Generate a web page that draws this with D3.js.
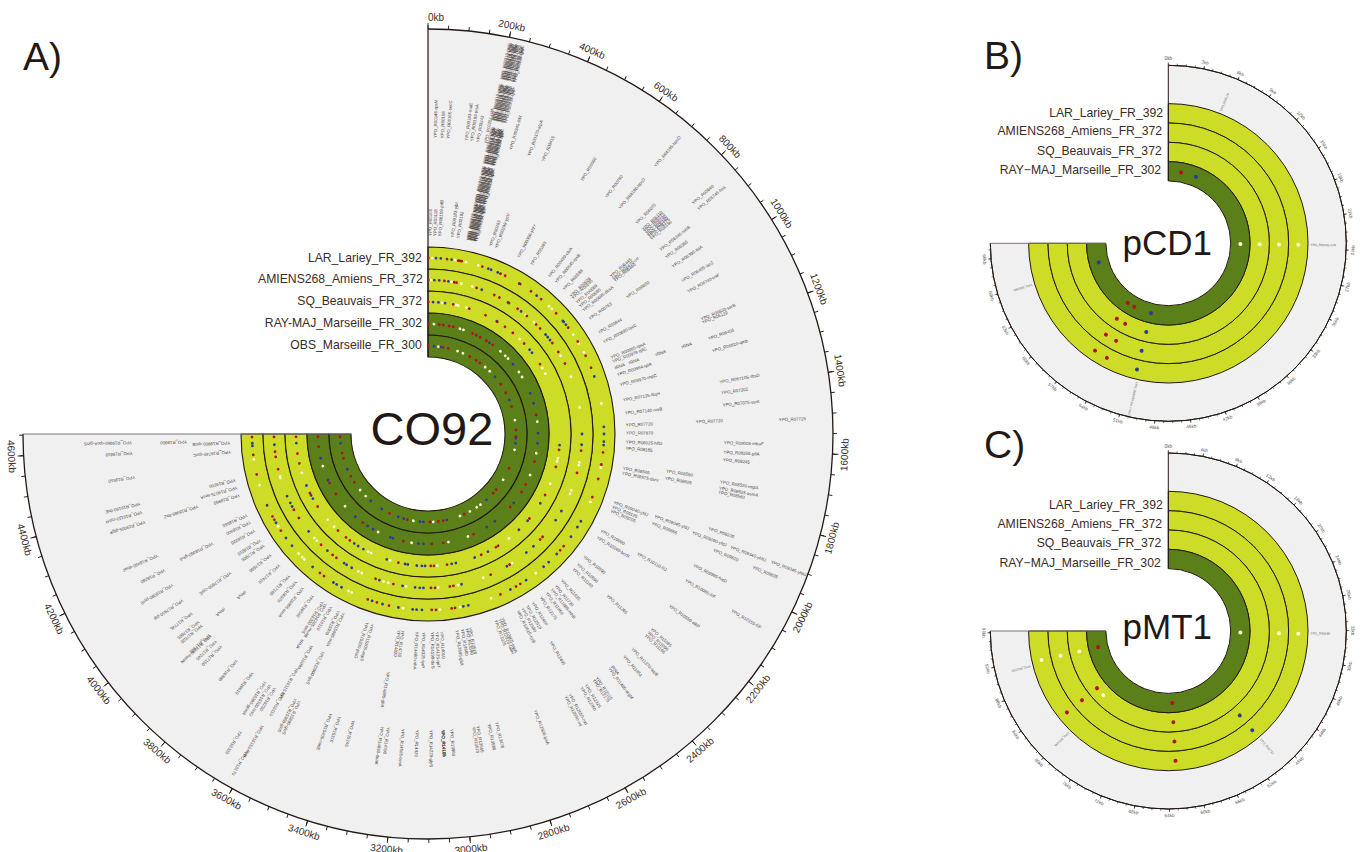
<!DOCTYPE html>
<html>
<head>
<meta charset="utf-8">
<script src="https://cdnjs.cloudflare.com/ajax/libs/d3/7.8.5/d3.min.js"></script>
<style>html,body{margin:0;padding:0;background:#fff}svg{display:block}text{font-family:"Liberation Sans",Arial,sans-serif}</style>
</head>
<body>
<svg id="chart" width="1362" height="852"></svg>
<script>
// ---------- genome sizes (kb) ----------
const co92Length = 4653, pcd1Length = 70.3, pmt1Length = 96.2;

// ---------- track names ----------
const co92Tracks = ["LAR_Lariey_FR_392","AMIENS268_Amiens_FR_372","SQ_Beauvais_FR_372","RAY-MAJ_Marseille_FR_302","OBS_Marseille_FR_300"];
const plasmidTracks = ["LAR_Lariey_FR_392","AMIENS268_Amiens_FR_372","SQ_Beauvais_FR_372","RAY\u2212MAJ_Marseille_FR_302"];

// ---------- CO92 SNP positions (kb) ----------
const larRed = [2,107,171,179,190,310,419,448,545,617,689,805,910,1005,1096,1170,1654,1723,1806,1913,2233,2263,2557,2585,2683,2950,2969,3057,3081,3323,3393,3447,3726,3755,4079,4151,4172,4424,4536,4636];
const larBlue = [45,72,133,345,362,402,538,657,862,869,889,1222,1511,1551,1594,1613,2063,2101,2166,2292,2356,2394,2518,2621,2874,2902,3136,3166,3188,3269,3360,3421,3609,3641,3662,3808,3974,4029,4131,4241,4586,4601];
const larWhite = [24,152,215,286,748,769,958,1017,1075,1379,1741,1942,2452,2740,2921,3035,3242,3545,3565,3871,3888,3917,4108,4362,4510];
const amiRed = [2,105,169,184,317,439,476,546,613,688,769,805,927,996,1082,1658,1803,2273,2297,2550,2688,2938,2961,3057,3083,3326,3445,3731,3762,3860,4084,4145,4425,4506,4539,4634];
const amiBlue = [41,72,131,352,539,641,858,879,903,1551,1620,2068,2137,2357,2418,2571,2885,3131,3154,3185,3266,3419,3614,3652,3671,3805,3977,4169,4195,4243,4584];
const amiWhite = [19,152,215,288,679,750,1025,1175,1379,1734,1753,1921,1944,2533,2740,2907,3036,3243,3360,3391,3541,3565,3898,3922,4367,4377];
const sqRed = [2,190,314,445,546,615,689,806,1000,1670,1799,2025,2237,2549,2568,2692,2959,3057,3081,3326,3728,3764,3843,4079,4195,4431,4506,4632];
const sqBlue = [38,78,128,541,867,896,1634,2097,2258,2352,2637,2745,2892,2924,3124,3148,3186,3254,3274,3416,3607,3653,3688,4148,4176,4257,4584];
const sqWhite = [107,210,227,290,757,1034,1082,1734,1758,1932,2451,3033,3390,3543,3567,3884,3955,4358];
const rayRed = [2,102,138,190,229,412,450,488,553,620,1379,1801,2021,2099,2268,2681,2964,3069,3326,3729,4084,4198,4539,4629];
const rayBlue = [586,872,1177,1272,1544,1635,2220,2457,2547,3143,3188,3422,3447,3619,3676,3814,4226,4434];
const rayWhite = [53,291,324,710,769,805,960,1013,1439,1725,1928,2735,2917,3250,3567,3946,4360];
const obsRed = [2,172,229,488,572,622,958,1070,1237,1506,1582,1946,2226,2278,2681,2930,2986,3080,3336,3548,4081,4158,4377,4436,4622];
const obsBlue = [67,146,853,1160,1599,1656,2383,2888,3154,3192,3378,3443,3648,3802,4246,4548];
const obsWhite = [117,338,403,698,767,1394,1730,2092,2471,2523,2612,2735,3043,3267,3879,3972];

// ---------- CO92 gene labels, by label lane: [kb, name] ----------
const genesLaneA = [[10,"YPO_R00100"],[34,"YPO_R00118"],[59,"YPO_R00159-prlB"],[121,"YPO_R00183-yjbI"],[150,"YPO_R00192"],[317,"YPO_R00283"],[346,"YPO_R00299-yjcV"],[467,"YPO_R00350-yhfY"],[541,"YPO_R00383"],[648,"YPO_R00499-cbiA"],[691,"YPO_R00545-lpxB"],[744,"YPO_R00588"],[793,"YPO_R00626"],[806,"YPO_R00635"],[836,"YPO_R00669"],[860,"YPO_R00685"],[886,"YPO_R00695-dksA"],[939,"YPO_R00763"],[1022,"YPO_R00844"],[1074,"YPO_R00890-lacC"],[1161,"YPO_R00965-rpsA"],[1182,"YPO_R00978-rplC"],[1215,"rRNA"],[1251,"YPO_R00994-rplA"],[1303,"YPO_R06970-rnpC"],[1380,"YPO_R07125-fliqH"],[1446,"YPO_R07140-ruvB"],[1506,"YPO_R07720"],[1546,"YPO_R07870"],[1591,"YPO_R08025-hflD"],[1622,"YPO_R08185"],[1722,"YPO_R08565"],[1747,"YPO_R08675-dsrV"],[1899,"YPO_R09040-yfdJ"],[1923,"YPO_R09125"],[1944,"YPO_R09205"],[2054,"YPO_R10060"],[2092,"YPO_R10260-bcrR"],[2209,"YPO_R10590"],[2259,"YPO_R10690"],[2290,"YPO_R11140"],[2370,"YPO_R11635"],[2411,"YPO_R11720"],[2437,"YPO_R11885-rnhB"],[2468,"YPO_R11960"],[2504,"YPO_R12175"],[2552,"YPO_R12450"],[2585,"YPO_R12510"],[2611,"YPO_R12580"],[2637,"YPO_R12615-rpiB"],[2723,"YPO_R12905-rnpA"],[2737,"YPO_R12910-fabH"],[2757,"YPO_R13025"],[2892,"YPO_R13510"],[2907,"YPO_R13590"],[2930,"YPO_R13680"],[2957,"YPO_R13695-gltX"],[3033,"YPO_R14010"],[3057,"YPO_R14125-rplT"],[3081,"YPO_R14190-thrS"],[3123,"YPO_R14325-tyrP"],[3157,"YPO_R14480-rnhA"],[3228,"YPO_R14755"],[3247,"YPO_R14820"],[3383,"YPO_R15205-aspS"],[3410,"YPO_R15330-ptsG"],[3538,"YPO_R15885-rnfA"],[3564,"YPO_R15970"],[3607,"YPO_R16120"],[3638,"YPO_R16265-mukB"],[3655,"YPO_R16300-serS"],[3714,"YPO_R16540"],[3776,"YPO_R16805-aroA"],[3822,"YPO_R16970"],[3867,"YPO_R17160"],[3939,"YPO_R17410"],[4005,"YPO_R17690"],[4064,"YPO_R17905"],[4095,"YPO_R18010"],[4151,"YPO_R18235"],[4198,"YPO_R18400"],[4236,"YPO_R18560"],[4343,"YPO_R18960"],[4382,"YPO_R19075-secA"],[4420,"YPO_R19200"],[4563,"YPO_R19745-rpoC"],[4608,"YPO_R19900-rpoB"]];
const genesLaneB = [[1215,"rRNA"]];
const genesLaneC = [[848,"YPO_R06445"],[862,"YPO_R06470-crr"],[872,"YPO_R06480"],[956,"YPO_R06650"],[1220,"rRNA"],[1703,"YPO_R08590"],[1732,"YPO_R08605"],[1894,"YPO_R09045-yfdJ"],[1925,"YPO_R09865"],[2063,"YPO_R10110-fliJ"],[2275,"YPO_R11265"],[2575,"YPO_R12495"],[3266,"YPO_R14895-gltA"],[3545,"YPO_R15900-lysS"],[3598,"YPO_R16090"],[3643,"tRNA"],[3950,"rRNA"],[4048,"YPO_R17850-cysE"],[4189,"YPO_R18350-glnA"],[4351,"YPO_R18985-ftsZ"],[4620,"YPO_R19950"]];
const genesLaneD = [[1225,"rRNA"],[1506,"YPO_R07720"],[3605,"YPO_R16115-ftsY"],[3953,"rRNA"]];
const genesLaneE = [[1903,"YPO_R09090-yfdJ"]];
const genesLaneF = [[24,"YPO_R00146-rpsN"],[47,"YPO_R00158"],[67,"YPO_R00165-secC"],[128,"YPO_R00183-rnaE"],[146,"YPO_R00193-ptsA"],[167,"YPO_R00243"],[193,"YPO_R00251-rsfA"],[279,"YPO_R00345-lldX"],[343,"YPO_R00370-atpA"],[393,"YPO_R00415"],[538,"YPO_R00560"],[636,"YPO_R00780"],[694,"YPO_R04180-hpcD"],[770,"YPO_R06075"],[800,"YPO_R06110"],[808,"YPO_R06125"],[817,"YPO_R06140"],[825,"YPO_R06160"],[831,"YPO_R06175"],[841,"YPO_R06190"],[889,"YPO_R06245-rnhB"],[920,"YPO_R06360"],[958,"YPO_R06395-tktA"],[1015,"YPO_R06455-lacZ"],[1056,"YPO_R06740-traF"],[1158,"YPO_R06830-ssrB"],[1170,"YPO_R06129"],[1227,"YPO_R06456"],[1270,"YPO_R06820-qmb"],[1377,"YPO_R06710S-rbsD"],[1413,"YPO_R07202"],[1454,"YPO_R07075-ssrK"],[1580,"YPO_R08005-mbaF"],[1611,"YPO_R08255-pflA"],[1637,"YPO_R08245"],[1711,"YPO_R08520-mgtA"],[1732,"YPO_R08525-asmA"],[1746,"YPO_R08560"],[1871,"YPO_R09230"],[2004,"YPO_R09985-hisD"],[2061,"YPO_R10065-fliF"],[2161,"YPO_R10550-alkP"],[2259,"YPO_R11085"],[2275,"YPO_R11090"],[2288,"YPO_R11195"],[2351,"YPO_R11370-lepB"],[2388,"YPO_R11451"],[2440,"tRNA"],[2452,"YPO_R11485-argM"],[2504,"YPO_R12115"],[2516,"YPO_R12175"],[2547,"YPO_R12325"],[2564,"YPO_R12360"],[2609,"YPO_R12550-rnd"],[2625,"YPO_R12590-rnt"],[2737,"YPO_R12920-lysA"],[2871,"YPO_R13470"],[2897,"YPO_R13580"],[2935,"YPO_R13665"],[2949,"YPO_R13670"],[3023,"YPO_R13960"],[3052,"YPO_R14105"],[3052,"YPO_R14105"],[3052,"YPO_R14105"],[3092,"YPO_R14220-glyS"],[3138,"YPO_R14420"],[3185,"YPO_R14585-trmA"],[3235,"YPO_R14790"],[3255,"YPO_R14860-dnaK"],[3354,"YPO_R15145"],[3402,"YPO_R15310"],[3433,"YPO_R15405-nadE"],[3545,"YPO_R15895-glnS"],[3560,"YPO_R15950-glnS"],[3605,"YPO_R16110"],[3638,"YPO_R16230"],[3657,"YPO_R16300-hisG"],[3676,"YPO_R16395-gpmA"],[3729,"YPO_R16610"],[3795,"YPO_R16880"],[3865,"YPO_R17150"],[3889,"YPO_R17245"],[3914,"YPO_R17290-hemN"],[3919,"YPO_R17305"],[3960,"YPO_R17520"],[3976,"YPO_R17605"],[4012,"YPO_R17745"],[4065,"YPO_R17910-pgi"],[4126,"YPO_R18090-pyrE"],[4182,"YPO_R18280"],[4236,"YPO_R18490-dnaJ"],[4355,"YPO_R19005-glgP"],[4389,"YPO_R19110-cysH"],[4418,"YPO_R19190-thiE"],[4508,"YPO_R19550"],[4589,"YPO_R19810"],[4624,"YPO_R19960-rpoA-ginS"]];
const genesLaneG = [[1932,"YPO_R09620"]];
const genesLaneH = [[1904,"YPO_R09340-yhbJ"]];
const genesLaneI = [[3612,"YPO_R16150-ftsH"]];
const genesLaneJ = [[694,"YPO_R04185-hpcD"],[843,"YPO_R05640"],[865,"YPO_R05745-hns"],[1511,"YPO_R07725"],[1935,"YPO_R09635"],[2071,"YPO_R10155-fliF"],[3657,"YPO_R16320"]];
const genesLaneK = [[1903,"YPO_R09345-yhbJ"],[3615,"YPO_R16170"]];

// ---------- CO92 dense gene block around 200-240 kb, by block ----------
const denseBlock1 = [199,203,205,209,212,216,220,223,227,231,234,237,242];
const denseBlock2 = [201,204,207,211,214,217,219,224,227,230,235,238,240];
const denseBlock3 = [203,207,209,212,215,217,222,226,229,232,234,237,239];
const denseBlock4 = [200,203,206,210,213,215,218,221,225,228,232,236,241];
const denseBlock5 = [202,205,208,211,213,216,218,221,223,228,233,236,238];
const denseNames = ["YPO_R00210-rpsL","YPO_R00212-rpsG","YPO_R00214-fusA","YPO_R00216-tufA","YPO_R00218-rpsJ","YPO_R00220-rplC","YPO_R00222-rplD","YPO_R00224-rplW","YPO_R00226-rplB","YPO_R00228-rpsS","YPO_R00230-rplV","YPO_R00232-rpsC","YPO_R00234-rplP"];

// ---------- CO92 axis labels ----------
const co92TickLabels = d3.range(0, 4601, 200);
const co92MinorTicks = d3.range(0, 4651, 50);

// ---------- pCD1 ----------
const pcdRayRed=[2.66,54.2,55.8], pcdRayBlue=[5.88,50.5,66.3], pcdRayWhite=[23.6];
const pcdSqRed=[54.2,55.8], pcdSqBlue=[50.5], pcdSqWhite=[23.6];
const pcdAmiRed=[54.2,55.8], pcdAmiBlue=[50.5], pcdAmiWhite=[23.6];
const pcdLarRed=[54.2,55.8], pcdLarBlue=[50.5], pcdLarWhite=[23.6];
const pcdGenes=[[5.65,"YPO_R00110"],[23.6,"YPO_R00HG-lcrR"],[65.9,"YPO_R00345"],[50.2,"YPO_R00255-yscJ-ssaJ"]];
const pcdTickLabels=d3.range(0,70,3), pcdMinorTicks=d3.range(0,70.3,0.75);

// ---------- pMT1 ----------
const pmtRayRed=[63,91.6], pmtRayBlue=[], pmtRayWhite=[32.5];
const pmtSqRed=[63,82.4], pmtSqBlue=[], pmtSqWhite=[80.3,91.6];
const pmtAmiRed=[63,82.4], pmtAmiBlue=[49.8], pmtAmiWhite=[32.5,91.6];
const pmtLarRed=[63,82.4], pmtLarBlue=[49.8], pmtLarWhite=[32.5,91.6];
const pmtGenes=[[32.4,"YPO_R00695"],[91.1,"YPO_R01150"],[80,"YPO_R01045"],[49.7,"YPO_R00712"]];
const pmtTickLabels=d3.range(0,97,4), pmtMinorTicks=d3.range(0,96.2,1);

// ---------- style ----------
const INK="#231815", LIGHT="#cddc27", DARK="#5b7f19", BG="#f0f0f1";
const RED="#b2131d", BLUE="#2c3a9b", WHITE="#fdfbd8";
const svg=d3.select("#chart");

function circlePlot(o){
  const g=svg.append("g").attr("transform",`translate(${o.cx},${o.cy})`);
  const angle=d3.scaleLinear().domain([0,o.length]).range([0,Math.PI*1.5]);
  const deg=k=>angle(k)*180/Math.PI;
  const arc=d3.arc().startAngle(0).endAngle(Math.PI*1.5);
  g.append("path").attr("d",arc({innerRadius:o.ringR[0],outerRadius:o.axisR})).attr("fill",BG);
  // rings
  o.tracks.forEach((t,i)=>{
    g.append("path").attr("d",arc({innerRadius:o.ringR[i+1],outerRadius:o.ringR[i]}))
      .attr("fill",t.dark?DARK:LIGHT).attr("stroke",INK).attr("stroke-width",o.ringStroke);
  });
  // axis frame
  g.append("path").attr("d",d3.arc().startAngle(0).endAngle(Math.PI*1.5)({innerRadius:o.axisR,outerRadius:o.axisR}))
    .attr("fill","none").attr("stroke",INK).attr("stroke-width",o.axisStroke);
  g.append("line").attr("x1",0).attr("x2",0).attr("y1",-o.axisR).attr("y2",-o.ringR[o.ringR.length-1]).attr("stroke",INK).attr("stroke-width",o.frameV);
  g.append("line").attr("y1",0).attr("y2",0).attr("x1",-o.axisR).attr("x2",-o.ringR[o.ringR.length-1]).attr("stroke","#7d7472").attr("stroke-width",o.frameH);
  // ticks
  const tick=(vals,len,w)=>g.selectAll(null).data(vals).join("line")
     .attr("transform",d=>`rotate(${deg(d)})`).attr("x1",0).attr("x2",0)
     .attr("y1",-o.axisR).attr("y2",-o.axisR-len).attr("stroke",INK).attr("stroke-width",w);
  tick(o.minor,o.minorLen,o.tickW);
  tick(o.labels,o.majorLen,o.tickW);
  g.selectAll(null).data(o.labels).join("text")
    .attr("transform",d=>{
      const a=deg(d);
      const flip=a>90;
      return `rotate(${a}) translate(${d===0?o.zeroShift:0},${-o.labelR}) rotate(${flip?180:0})`;
    })
    .attr("text-anchor","middle").attr("dy","0.35em")
    .attr("font-size",o.labelSize).attr("fill",o.labelColor).text(d=>d+"kb");
  // dots
  o.tracks.forEach((t,i)=>{
    const r=(o.ringR[i]+o.ringR[i+1])/2;
    [[t.white,WHITE],[t.blue,BLUE],[t.red,RED]].forEach(([vals,c])=>{
      g.selectAll(null).data(vals).join("circle")
        .attr("transform",d=>`rotate(${deg(d)})`).attr("cx",0).attr("cy",-r)
        .attr("r",o.dotR).attr("fill",c);
    });
  });
  // gene labels
  o.geneLanes.forEach(l=>{
    g.selectAll(null).data(l.genes).join("text")
      .attr("transform",d=>`rotate(${deg(d[0])-90}) translate(${l.r},0)`)
      .attr("dy","0.35em").attr("font-size",o.geneSize).attr("fill",o.geneColor)
      .text(d=>d[1]);
  });
  // track labels
  o.trackLabels.forEach(l=>{
    g.append("text").attr("x",l.x).attr("y",l.y).attr("text-anchor","end").attr("dy","0.35em")
      .attr("font-size",12.2).attr("fill","#3a2c28").text(l.text);
  });
  // title
  g.append("text").attr("x",o.titleX).attr("y",o.titleY).attr("text-anchor","middle")
    .attr("font-size",o.titleSize).attr("fill",INK).text(o.title);
}

const dense=(a)=>a.map((k,i)=>[k,denseNames[i]]);

circlePlot({
  cx:428,cy:434,length:co92Length,axisR:405,ringR:[187,165,143,121,99,77],
  ringStroke:1.1,axisStroke:1.3,frameV:1.2,frameH:1.2,tickW:0.9,minorLen:4,majorLen:6,labelR:417,labelSize:10,labelColor:"#3a2c28",zeroShift:8,
  minor:co92MinorTicks,labels:co92TickLabels,dotR:1.4,geneSize:4.4,geneColor:"#4f4643",
  tracks:[
    {red:larRed,blue:larBlue,white:larWhite},
    {red:amiRed,blue:amiBlue,white:amiWhite},
    {red:sqRed,blue:sqBlue,white:sqWhite},
    {red:rayRed,blue:rayBlue,white:rayWhite,dark:true},
    {red:obsRed,blue:obsBlue,white:obsWhite,dark:true}],
  geneLanes:[
    {r:198,genes:genesLaneA},{r:213,genes:genesLaneB},{r:241,genes:genesLaneC},{r:268,genes:genesLaneD},
    {r:282,genes:genesLaneE},{r:296,genes:genesLaneF},{r:308,genes:genesLaneG},{r:323,genes:genesLaneH},
    {r:335,genes:genesLaneI},{r:351,genes:genesLaneJ},{r:366,genes:genesLaneK},
    {r:198,genes:dense(denseBlock1)},{r:236,genes:dense(denseBlock2)},{r:276,genes:dense(denseBlock3)},
    {r:320,genes:dense(denseBlock4)},{r:362,genes:dense(denseBlock5)}],
  trackLabels:[
    {text:co92Tracks[0],x:-6.3,y:-176},{text:co92Tracks[1],x:-5.3,y:-155.3},{text:co92Tracks[2],x:-6,y:-133},
    {text:co92Tracks[3],x:-6,y:-111},{text:co92Tracks[4],x:-6.3,y:-89}],
  title:"CO92",titleX:4,titleY:11,titleSize:47
});

const ringsSmall=[139.7,120.3,101,81.7,62.4];
const small={axisR:178,ringR:ringsSmall,ringStroke:1,axisStroke:1,frameV:1,frameH:1,tickW:0.6,minorLen:1.8,majorLen:3,labelR:184.5,labelSize:4.6,labelColor:"#555",zeroShift:0,dotR:2,geneSize:3.2,geneColor:"#666",titleSize:35};

circlePlot(Object.assign({},small,{
  cx:1168.3,cy:243.3,length:pcd1Length,minor:pcdMinorTicks,labels:pcdTickLabels,
  tracks:[
    {red:pcdLarRed,blue:pcdLarBlue,white:pcdLarWhite},
    {red:pcdAmiRed,blue:pcdAmiBlue,white:pcdAmiWhite},
    {red:pcdSqRed,blue:pcdSqBlue,white:pcdSqWhite},
    {red:pcdRayRed,blue:pcdRayBlue,white:pcdRayWhite,dark:true}],
  geneLanes:[{r:142,genes:pcdGenes}],
  trackLabels:[
    {text:plasmidTracks[0],x:-5.3,y:-131},{text:plasmidTracks[1],x:-6.3,y:-112.3},
    {text:plasmidTracks[2],x:-6.6,y:-93},{text:plasmidTracks[3],x:-7.3,y:-73.6}],
  title:"pCD1",titleX:-1,titleY:12
}));

circlePlot(Object.assign({},small,{
  cx:1168.3,cy:631,length:pmt1Length,minor:pmtMinorTicks,labels:pmtTickLabels,
  tracks:[
    {red:pmtLarRed,blue:pmtLarBlue,white:pmtLarWhite},
    {red:pmtAmiRed,blue:pmtAmiBlue,white:pmtAmiWhite},
    {red:pmtSqRed,blue:pmtSqBlue,white:pmtSqWhite},
    {red:pmtRayRed,blue:pmtRayBlue,white:pmtRayWhite,dark:true}],
  geneLanes:[{r:142,genes:pmtGenes}],
  trackLabels:[
    {text:plasmidTracks[0],x:-5.6,y:-126},{text:plasmidTracks[1],x:-6.3,y:-107.3},
    {text:plasmidTracks[2],x:-6.9,y:-88.3},{text:plasmidTracks[3],x:-7.6,y:-68}],
  title:"pMT1",titleX:-1,titleY:8
}));

// panel letters
[["A)",23,70],["B)",984,69],["C)",984,458]].forEach(([t,x,y])=>{
  svg.append("text").attr("x",x).attr("y",y).attr("font-size",39).attr("fill",INK).text(t);
});
</script>
</body>
</html>
